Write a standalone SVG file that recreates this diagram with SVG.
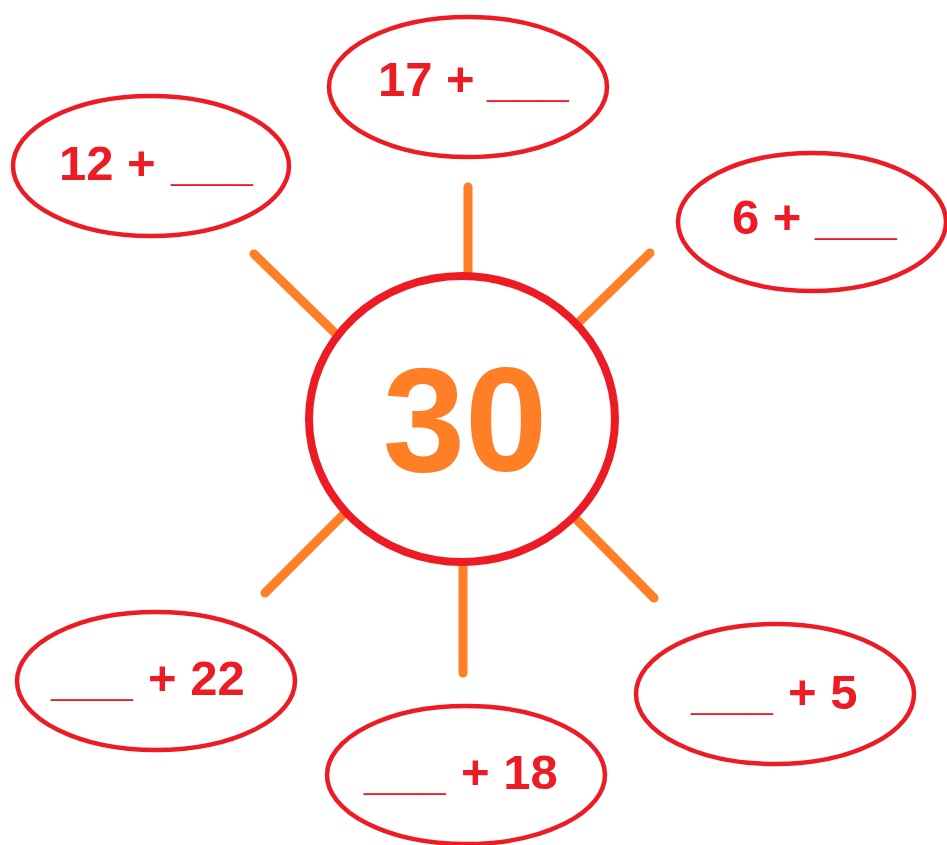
<svg xmlns="http://www.w3.org/2000/svg" width="947" height="845" viewBox="0 0 947 845">
<style>
.bg{fill:#ffffff}
.oval{fill:none;stroke:#ED1C24;stroke-width:4.5}
.hub{fill:none;stroke:#ED1C24;stroke-width:8}
.ray{stroke:#FF7F27;stroke-width:9;stroke-linecap:round;fill:none}
.lbl{font-family:"Liberation Sans",Arial,sans-serif;font-weight:bold;font-size:49px;fill:#ED1C24}
.big{font-family:"Liberation Sans",Arial,sans-serif;font-weight:bold;font-size:148px;fill:#FF7F27}
</style>
<rect class="bg" x="0" y="0" width="947" height="845"/>
<g id="connectors">
<line class="ray" x1="468" y1="187" x2="468" y2="274"/>
<line class="ray" x1="254" y1="254" x2="335" y2="333"/>
<line class="ray" x1="650" y1="253" x2="578" y2="323"/>
<line class="ray" x1="344" y1="514" x2="265" y2="593"/>
<line class="ray" x1="463" y1="566" x2="463" y2="673"/>
<line class="ray" x1="577" y1="520" x2="654" y2="598"/>
</g>
<g id="center">
<ellipse class="hub" cx="462" cy="419" rx="153" ry="143"/>
<text class="big" x="465" y="471" text-anchor="middle">30</text>
</g>
<g id="n12">
<ellipse class="oval" cx="151" cy="166" rx="138" ry="70"/>
<text class="lbl" x="59" y="180">12 + <tspan x="171">___</tspan></text>
</g>
<g id="n17">
<ellipse class="oval" cx="468" cy="87" rx="139" ry="70"/>
<text class="lbl" x="378" y="96">17 + <tspan x="487">___</tspan></text>
</g>
<g id="n6">
<ellipse class="oval" cx="812" cy="222" rx="134" ry="69"/>
<text class="lbl" x="732" y="234">6 + <tspan x="815">___</tspan></text>
</g>
<g id="n22">
<ellipse class="oval" cx="156" cy="681" rx="139" ry="69"/>
<text class="lbl" x="51" y="695">___ <tspan x="148">+ 22</tspan></text>
</g>
<g id="n18">
<ellipse class="oval" cx="466" cy="775" rx="139" ry="69"/>
<text class="lbl" x="364" y="789">___ <tspan x="461">+ 18</tspan></text>
</g>
<g id="n5">
<ellipse class="oval" cx="775" cy="694" rx="139" ry="70"/>
<text class="lbl" x="691" y="709">___ <tspan x="788">+ 5</tspan></text>
</g>
</svg>
